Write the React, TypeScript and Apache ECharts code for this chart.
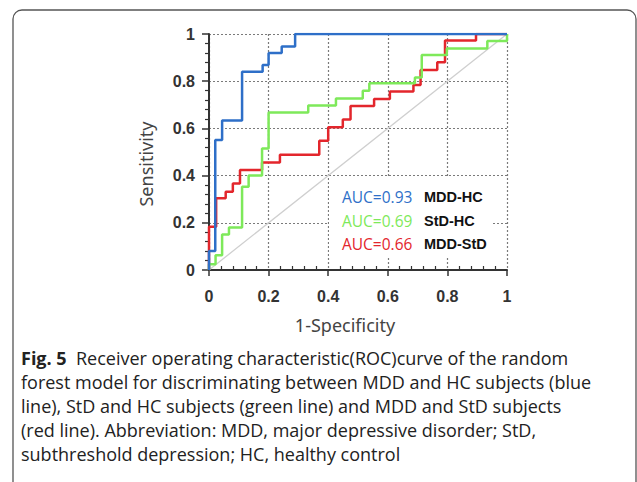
import React, { useEffect, useRef } from "react";
import * as echarts from "echarts";

// ROC points (1-specificity, sensitivity)
const FPR_BLUE = [0, 0, 0.021, 0.044, 0.111, 0.18, 0.2, 0.244, 0.289, 1];
const TPR_BLUE = [0, 0.08, 0.551, 0.633, 0.84, 0.869, 0.919, 0.947, 1, 1];

const FPR_GREEN = [0, 0, 0.022, 0.044, 0.067, 0.111, 0.133, 0.178, 0.2, 0.333, 0.426, 0.516, 0.538, 0.691, 0.714, 0.798, 0.934, 1];
const TPR_GREEN = [0, 0.024, 0.062, 0.15, 0.18, 0.353, 0.4, 0.515, 0.667, 0.697, 0.727, 0.76, 0.791, 0.816, 0.911, 0.939, 0.97, 1];

const FPR_RED = [0, 0, 0.024, 0.056, 0.08, 0.104, 0.178, 0.238, 0.37, 0.4, 0.449, 0.475, 0.554, 0.607, 0.686, 0.71, 0.766, 0.792, 0.896, 1];
const TPR_RED = [0, 0.183, 0.304, 0.332, 0.367, 0.424, 0.456, 0.488, 0.548, 0.605, 0.638, 0.695, 0.725, 0.756, 0.784, 0.847, 0.88, 0.972, 1, 1];

const DIAG_X = [0, 1];
const DIAG_Y = [0, 1];

const AUC_LABELS = ["AUC=0.93", "AUC=0.69", "AUC=0.66"];
const GROUP_LABELS = ["MDD-HC", "StD-HC", "MDD-StD"];
const COLORS = ["#2e6fc8", "#7ee95a", "#e3262c"];

const CAPTION_LINES = [
  "{b|Fig. 5}  Receiver operating characteristic(ROC)curve of the random",
  "forest model for discriminating between MDD and HC subjects (blue",
  "line), StD and HC subjects (green line) and MDD and StD subjects",
  "(red line). Abbreviation: MDD, major depressive disorder; StD,",
  "subthreshold depression; HC, healthy control",
];

const zip = (xs: number[], ys: number[]) => xs.map((x, i) => [x, ys[i]]);

export default function App() {
  const ref = useRef<HTMLDivElement>(null);
  useEffect(() => {
    if (!ref.current) return;
    const chart = echarts.init(ref.current, null, { renderer: "svg" });
    const tickFont = { fontFamily: "Liberation Sans", fontWeight: "bold" as const, fontSize: 16, color: "#333" };
    const split = { show: true, lineStyle: { color: "#7a7a7a", type: [2, 2] as any, width: 1.2 } };
    const graphic: any[] = [
      {
        type: "rect",
        shape: { x: 13, y: 10, width: 623, height: 520, r: 9 },
        style: { fill: "none", stroke: "#555", lineWidth: 1.3 },
        z: 100,
      },
      {
        type: "rect",
        shape: { x: 329, y: 178, width: 163, height: 80 },
        style: { fill: "#fff" },
        z: 1,
      },
      {
        type: "text",
        x: 146,
        y: 164,
        rotation: Math.PI / 2,
        style: {
          text: "Sensitivity",
          fontFamily: "Noto Sans",
          fontSize: 18,
          fill: "#444",
          align: "center",
          verticalAlign: "middle",
        },
      },
    ];
    AUC_LABELS.forEach((t, i) => {
      graphic.push({
        type: "text",
        x: 342,
        y: 197 + i * 23.5,
        style: { text: t, fontFamily: "Open Sans", fontSize: 15.5, fill: COLORS[i], align: "left", verticalAlign: "middle" },
        z: 50,
      });
      graphic.push({
        type: "text",
        x: 424,
        y: 197 + i * 23.5,
        style: {
          text: GROUP_LABELS[i],
          fontFamily: "Liberation Sans",
          fontWeight: "bold",
          fontSize: 14.5,
          fill: "#111",
          align: "left",
          verticalAlign: "middle",
        },
        z: 50,
      });
    });
    CAPTION_LINES.forEach((t, i) => {
      graphic.push({
        type: "text",
        x: 21,
        y: 358 + i * 24,
        style: {
          text: t,
          fontFamily: "Open Sans",
          fontSize: 18,
          fill: "#222",
          align: "left",
          verticalAlign: "middle",
          rich: { b: { fontFamily: "Open Sans", fontSize: 18, fontWeight: "bold", fill: "#222" } },
        },
      });
    });

    chart.setOption({
      animation: false,
      backgroundColor: "#fff",
      grid: { left: 209, right: 130, top: 34, bottom: 212 },
      xAxis: [
        {
          type: "value",
          min: 0,
          max: 1,
          interval: 0.2,
          name: "1-Specificity",
          nameLocation: "middle",
          nameGap: 46,
          nameTextStyle: { fontFamily: "Noto Sans", fontSize: 18, color: "#444", padding: [0, 26, 0, 0] },
          axisLine: { show: true, onZero: false, lineStyle: { color: "#333", width: 2 } },
          axisTick: { show: true, length: 6, lineStyle: { color: "#333", width: 1.5 } },
          axisLabel: { ...tickFont, margin: 18 },
          splitLine: split,
        },
        {
          type: "value",
          min: 0,
          max: 1,
          interval: 0.2,
          position: "bottom",
          axisLine: { show: false },
          axisTick: { show: false, inside: true },
          minorTick: { show: true, splitNumber: 5, length: 4, lineStyle: { color: "#333", width: 1.2 } },
          axisLabel: { show: false },
          splitLine: { show: false },
        },
      ],
      yAxis: {
        type: "value",
        min: 0,
        max: 1,
        interval: 0.2,
        axisLine: { show: true, onZero: false, lineStyle: { color: "#333", width: 2 } },
        axisTick: { show: true, length: 7, lineStyle: { color: "#333", width: 1.5 } },
        minorTick: { show: true, splitNumber: 5, length: 4, lineStyle: { color: "#333", width: 1.2 } },
        axisLabel: { ...tickFont, margin: 14 },
        splitLine: split,
      },
      series: [
        {
          type: "line",
          data: zip(DIAG_X, DIAG_Y),
          showSymbol: false,
          lineStyle: { color: "#cfcfcf", width: 1.3 },
          silent: true,
        },
        {
          type: "line",
          step: "end",
          data: zip(FPR_RED, TPR_RED),
          showSymbol: false,
          lineStyle: { color: COLORS[2], width: 2.5 },
        },
        {
          type: "line",
          step: "end",
          data: zip(FPR_GREEN, TPR_GREEN),
          showSymbol: false,
          lineStyle: { color: COLORS[1], width: 2.5 },
        },
        {
          type: "line",
          step: "end",
          data: zip(FPR_BLUE, TPR_BLUE),
          showSymbol: false,
          lineStyle: { color: COLORS[0], width: 2.5 },
        },
      ],
      graphic,
    });
    return () => chart.dispose();
  }, []);
  return (
    <div
      ref={ref}
      style={{ position: "fixed", left: 0, top: 0, width: 637, height: 482, background: "#fff" }}
    />
  );
}
